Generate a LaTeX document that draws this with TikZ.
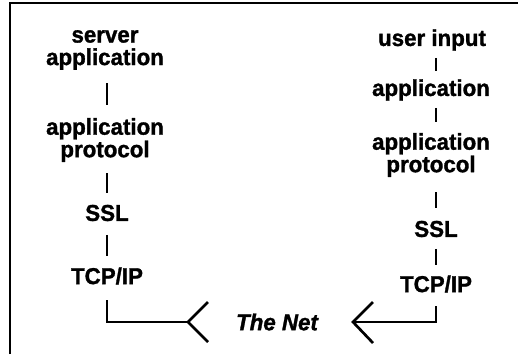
\documentclass[tikz,border=0pt]{standalone}
\usepackage{fontspec}
\setmainfont[BoldFeatures={FakeStretch=0.97,FakeBold=1.3},BoldItalicFeatures={FakeStretch=0.97,FakeBold=1.3}]{Liberation Sans}
\begin{document}
\begin{tikzpicture}[x=1pt,y=-1pt,
  lbl/.style={align=center,inner sep=0pt,font=\bfseries\fontsize{23}{22.5}\selectfont},
  netlbl/.style={inner sep=0pt,font=\bfseries\itshape\fontsize{23}{22.5}\selectfont},
  bar/.style={line width=2.7pt},
  frame/.style={line width=2pt}]
\useasboundingbox (0,0) rectangle (518,354);
\draw[frame] (10,354) -- (10,3) -- (518,3);
% left stack
\node[lbl] (sa) at (105,50) {server\\application};
\node[lbl] (ap) at (105,140) {application\\protocol};
\node[lbl] (ssl) at (107,213) {SSL};
\node[lbl] (tcp) at (107,276) {TCP/IP};
% right stack
\node[lbl] (ui) at (432,40) {user input};
\node[lbl] (app) at (431,90) {application};
\node[lbl] (rap) at (431,155) {application\\protocol};
\node[lbl] (rssl) at (436,229) {SSL};
\node[lbl] (rtcp) at (436,284) {TCP/IP};
% net
\node[netlbl] (net) at (277,322) {The Net};
\coordinate (ltip) at (188,322);
\coordinate (rtip) at (353,322);
% left bars
\draw[bar,shorten <=13pt,shorten >=12.5pt] ([xshift=2pt]sa.south) -- ([xshift=2pt]ap.north);
\draw[bar,shorten <=11pt,shorten >=12pt] ([xshift=2pt]ap.south) -- (ssl.north);
\draw[bar,shorten <=13.4pt,shorten >=11.4pt] (ssl.south) -- (tcp.north);
\draw[bar,shorten <=15.4pt] (tcp.south) |- (ltip);
\draw[bar] ([shift={(20,-20)}]ltip) -- (ltip) -- ([shift={(20,20)}]ltip);
% right bars
\draw[bar,shorten <=7pt,shorten >=7.8pt] ([xshift=4pt]ui.south) -- ([xshift=5pt]app.north);
\draw[bar,shorten <=7pt,shorten >=10.8pt] ([xshift=5pt]app.south) -- ([xshift=5pt]rap.north);
\draw[bar,shorten <=15pt,shorten >=12.4pt] ([xshift=5pt]rap.south) -- (rssl.north);
\draw[bar,shorten <=11.4pt,shorten >=10.4pt] (rssl.south) -- (rtcp.north);
\draw[bar,shorten <=13.4pt] (rtcp.south) |- (rtip);
\draw[bar] ([shift={(20,-20)}]rtip) -- (rtip) -- ([shift={(20,21)}]rtip);
\end{tikzpicture}
\end{document}
